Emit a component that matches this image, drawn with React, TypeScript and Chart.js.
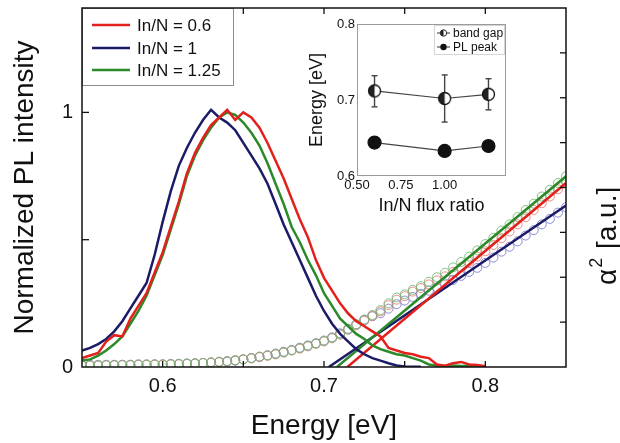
import React, { useEffect, useRef } from 'react';
import { Chart, registerables } from 'chart.js';
Chart.register(...registerables);

const FONT = "'Liberation Sans', Arial, Helvetica, sans-serif";
const INK = '#111';

// ---------- main chart data ----------
const plEnergy = [0.550,0.555,0.560,0.565,0.570,0.575,0.580,0.585,0.590,0.595,0.600,0.605,0.610,0.615,0.620,0.625,0.630,0.635,0.640,0.645,0.650,0.655,0.660,0.665,0.670,0.675,0.680,0.685,0.690,0.695,0.700,0.705,0.710,0.715,0.720,0.725,0.730,0.735,0.740,0.745,0.750,0.755,0.760,0.765,0.770,0.775,0.780,0.785,0.790,0.795,0.800];
const plRed = [0.035,0.045,0.055,0.10,0.125,0.12,0.19,0.24,0.29,0.37, 0.45,0.55,0.65,0.76,0.84,0.90,0.95,0.98,1.01,0.97, 1.00,0.98,0.94,0.88,0.81,0.74,0.66,0.58,0.51,0.42, 0.35,0.30,0.25,0.21,0.18,0.16,0.14,0.12,0.075,0.065, 0.055,0.05,0.04,0.035,0.01,0.005,0.015,0.02,0.01,0.008,0.003];
const plBlue = [0.065,0.075,0.09,0.11,0.14,0.18,0.23,0.28,0.33,0.44, 0.57,0.69,0.79,0.86,0.92,0.97,1.01,0.98,0.96,0.93, 0.88,0.83,0.78,0.72,0.64,0.56,0.49,0.42,0.35,0.28, 0.22,0.17,0.13,0.10,0.07,0.05,0.035,0.025,0.015,0.006, 0.002,0.001,0.001,null,null,null,null,null,null,null,null];
const plGreen = [0.025,0.03,0.045,0.065,0.09,0.12,0.17,0.22,0.28,0.36, 0.44,0.54,0.64,0.75,0.83,0.89,0.94,0.98,1.00,0.99, 0.96,0.92,0.87,0.80,0.72,0.64,0.55,0.49,0.42,0.36, 0.29,0.24,0.19,0.16,0.13,0.11,0.085,0.07,0.06,0.05, 0.045,0.035,0.025,0.01,0.005,0.004,0.006,0.004,0.005,0.004,0.003];

const absEnergy = [0.550,0.555,0.560,0.565,0.570,0.575,0.580,0.585,0.590,0.595,0.600,0.605,0.610,0.615,0.620,0.625,0.630,0.635,0.640,0.645,0.650,0.655,0.660,0.665,0.670,0.675,0.680,0.685,0.690,0.695,0.700,0.705,0.710,0.715,0.720,0.725,0.730,0.735,0.740,0.745,0.750,0.755,0.760,0.765,0.770,0.775,0.780,0.785,0.790,0.795,0.800,0.805,0.810,0.815,0.820,0.825,0.830,0.835,0.840,0.845,0.850];
const absBlue = [0.05,0.05,0.05,0.05,0.05,0.05,0.05,0.06,0.06,0.06, 0.06,0.07,0.07,0.08,0.08,0.09,0.10,0.11,0.12,0.14, 0.17,0.20,0.23,0.26,0.30,0.34,0.38,0.43,0.48,0.53, 0.59,0.66,0.75,0.85,0.95,1.05,1.13,1.20,1.30,1.40, 1.48,1.56,1.63,1.70,1.77,1.86,1.94,2.03,2.12,2.21, 2.32,2.44,2.57,2.68,2.80,2.93,3.05,3.18,3.30,3.44,3.56];
const absRed = [0.03,0.03,0.03,0.04,0.04,0.04,0.04,0.05,0.05,0.05, 0.05,0.06,0.06,0.07,0.08,0.09,0.10,0.11,0.13,0.15, 0.17,0.19,0.22,0.25,0.28,0.32,0.37,0.41,0.46,0.52, 0.57,0.64,0.72,0.83,0.93,1.03,1.14,1.24,1.38,1.50, 1.58,1.68,1.76,1.84,1.93,2.02,2.12,2.22,2.34,2.46, 2.58,2.72,2.87,3.02,3.18,3.34,3.50,3.65,3.80,3.96,4.12];
const absGreen = [0.04,0.04,0.04,0.04,0.04,0.05,0.05,0.05,0.05,0.06, 0.06,0.06,0.07,0.07,0.08,0.09,0.10,0.12,0.13,0.15, 0.17,0.20,0.23,0.26,0.29,0.33,0.37,0.42,0.47,0.52, 0.58,0.65,0.74,0.84,0.95,1.06,1.16,1.27,1.42,1.55, 1.62,1.72,1.80,1.90,2.00,2.10,2.22,2.34,2.46,2.60, 2.74,2.88,3.04,3.18,3.34,3.50,3.64,3.80,3.95,4.10,4.25];

const fitEnergyBlue = [0.703, 0.85];
const fitBlue = [0, 3.6];
const fitEnergyRed = [0.7145, 0.85];
const fitRed = [0, 4.1];
const fitEnergyGreen = [0.708, 0.85];
const fitGreen = [0, 4.25];

const seriesLabels = ['In/N = 0.6', 'In/N = 1', 'In/N = 1.25'];
const xTickLabels = ['0.6', '0.7', '0.8'];
const xTickMarks = [0.6, 0.65, 0.7, 0.75, 0.8];
const yTickLabels = ['0', '1'];
const yTickMarks = [0.5, 1];
const y2TickMarks = [1, 2, 3, 4, 5, 6, 7];

// ---------- inset data ----------
const fluxRatio = [0.6, 1.0, 1.25];
const bandGap = [0.712, 0.702, 0.7075];
const bandGapLow = [0.691, 0.671, 0.687];
const bandGapHigh = [0.732, 0.733, 0.728];
const plPeak = [0.644, 0.633, 0.6395];
const insetXLabels = ['0.50', '0.75', '1.00', '1.25'];
const insetYLabels = ['0.6', '0.7', '0.8'];
const insetLegend = ['band gap', 'PL peak'];

const RED = '#e3211c';
const BLUE = '#1b1b68';
const GREEN = '#2a8a2a';
const RED_C = 'rgba(232,120,120,0.85)';
const BLUE_C = 'rgba(120,120,205,0.85)';
const GREEN_C = 'rgba(110,185,110,0.85)';

Chart.defaults.font.family = FONT;
Chart.defaults.color = INK;

const xy = (xs: number[], ys: (number | null)[]) => xs.map((x, i) => ({ x, y: ys[i] }));

function halfMarker(r: number) {
  const c = document.createElement('canvas');
  const s = Math.ceil(r * 2 + 3);
  c.width = s; c.height = s;
  const g = c.getContext('2d')!;
  const m = s / 2;
  g.beginPath(); g.arc(m, m, r, 0, Math.PI * 2); g.fillStyle = '#fff'; g.fill();
  g.beginPath(); g.arc(m, m, r, Math.PI / 2, Math.PI * 1.5); g.closePath(); g.fillStyle = '#222'; g.fill();
  g.beginPath(); g.arc(m, m, r, 0, Math.PI * 2); g.lineWidth = 1.3; g.strokeStyle = '#111'; g.stroke();
  return c;
}

function line(ctx: CanvasRenderingContext2D, x1: number, y1: number, x2: number, y2: number) {
  ctx.beginPath(); ctx.moveTo(x1, y1); ctx.lineTo(x2, y2); ctx.stroke();
}

const zeroPad = (s: any) => { s.paddingTop = 0; s.paddingBottom = 0; s.paddingLeft = 0; s.paddingRight = 0; };

const mainDecor = {
  id: 'mainDecor',
  afterDatasetsDraw(chart: any) {
    const { ctx, chartArea: ca } = chart;
    const xs = chart.scales.x, ys = chart.scales.y, y2 = chart.scales.y2;
    ctx.save();
    ctx.strokeStyle = INK; ctx.lineWidth = 1.3;
    xTickMarks.forEach(v => { const px = xs.getPixelForValue(v); line(ctx, px, ca.bottom, px, ca.bottom - 6); line(ctx, px, ca.top, px, ca.top + 6); });
    yTickMarks.forEach(v => { const py = ys.getPixelForValue(v); line(ctx, ca.left, py, ca.left + 7, py); });
    y2TickMarks.forEach(v => { const py = y2.getPixelForValue(v); line(ctx, ca.right, py, ca.right - 6, py); });
    // legend
    const lx = ca.left, ly = ca.top, lw = 151, lh = 77;
    ctx.fillStyle = '#fff'; ctx.fillRect(lx, ly, lw, lh);
    ctx.strokeStyle = '#8c8c8c'; ctx.lineWidth = 1; ctx.strokeRect(lx + 0.5, ly + 0.5, lw, lh);
    const cols = [RED, BLUE, GREEN];
    const rows = [17, 40, 62];
    ctx.font = `17px ${FONT}`; ctx.textBaseline = 'middle'; ctx.textAlign = 'left';
    seriesLabels.forEach((t, i) => {
      ctx.strokeStyle = cols[i]; ctx.lineWidth = 2.5;
      line(ctx, lx + 10, ly + rows[i], lx + 48, ly + rows[i]);
      ctx.fillStyle = INK; ctx.fillText(t, lx + 55, ly + rows[i] + 1);
    });
    // frame
    ctx.strokeStyle = INK; ctx.lineWidth = 1.5;
    ctx.strokeRect(ca.left, ca.top, ca.right - ca.left, ca.bottom - ca.top);
    ctx.restore();
  },
  afterDraw(chart: any) {
    const { ctx } = chart;
    ctx.save();
    ctx.translate(chart.width - 4, 285);
    ctx.rotate(-Math.PI / 2);
    ctx.fillStyle = INK; ctx.textBaseline = 'alphabetic'; ctx.textAlign = 'left';
    ctx.font = `28px ${FONT}`;
    ctx.fillText('α', 0, 0);
    const wa = ctx.measureText('α').width;
    ctx.font = `18px ${FONT}`;
    ctx.fillText('2', wa + 1, -14);
    const w2 = ctx.measureText('2').width;
    ctx.font = `28px ${FONT}`;
    ctx.fillText(' [a.u.]', wa + w2 + 2, 0);
    ctx.restore();
  },
};

function mainConfig(): any {
  const pl = (label: string, ys: (number | null)[], color: string) => ({
    label, data: xy(plEnergy, ys), borderColor: color, backgroundColor: color, borderWidth: 2.5,
    pointRadius: 0, yAxisID: 'y', order: 0, spanGaps: false, tension: 0,
  });
  const fit = (xs: number[], ys: number[], color: string) => ({
    data: xy(xs, ys), borderColor: color, borderWidth: 2.5, pointRadius: 0, yAxisID: 'y2', order: 1,
  });
  const abs = (ys: number[], color: string) => ({
    data: xy(absEnergy, ys), showLine: false, pointRadius: 4.5, pointBorderWidth: 1,
    pointBorderColor: color, pointBackgroundColor: 'rgba(255,255,255,0)', borderColor: color, yAxisID: 'y2', order: 2,
  });
  return {
    type: 'line',
    data: {
      datasets: [
        pl(seriesLabels[0], plRed, RED),
        pl(seriesLabels[2], plGreen, GREEN),
        pl(seriesLabels[1], plBlue, BLUE),
        fit(fitEnergyGreen, fitGreen, GREEN),
        fit(fitEnergyRed, fitRed, RED),
        fit(fitEnergyBlue, fitBlue, BLUE),
        abs(absGreen, GREEN_C),
        abs(absRed, RED_C),
        abs(absBlue, BLUE_C),
      ],
    },
    options: {
      responsive: false, animation: false, devicePixelRatio: 1,
      layout: { padding: { top: 8, left: 0, right: 0, bottom: 0 } },
      plugins: { legend: { display: false }, tooltip: { enabled: false } },
      scales: {
        x: {
          type: 'linear', position: 'bottom', min: 0.55, max: 0.85,
          ticks: {
            stepSize: 0.05, padding: 7, maxRotation: 0, autoSkip: false, color: INK,
            font: { size: 20, family: FONT },
            callback: (v: number) => { const s = Number(v).toFixed(1); return Math.abs(v * 10 - Math.round(v * 10)) < 1e-6 && xTickLabels.includes(s) ? s : ''; },
          },
          grid: { display: false, drawTicks: false }, border: { display: false },
          title: { display: true, text: 'Energy [eV]', color: INK, font: { size: 28, family: FONT }, padding: { top: 0, bottom: 0 } },
          afterFit: (s: any) => { s.height = 76; zeroPad(s); },
        },
        y: {
          type: 'linear', position: 'left', min: 0, max: 1.41,
          ticks: {
            stepSize: 0.5, padding: 9, color: INK, font: { size: 20, family: FONT },
            callback: (v: number) => { const r = Math.round(v); return Math.abs(v - r) < 1e-6 && yTickLabels.includes(String(r)) ? String(r) : ''; },
          },
          grid: { display: false, drawTicks: false }, border: { display: false },
          title: { display: true, text: 'Normalized PL intensity', color: INK, font: { size: 28, family: FONT }, padding: { top: 8, bottom: 0 } },
          afterFit: (s: any) => { s.width = 82; zeroPad(s); },
        },
        y2: {
          type: 'linear', position: 'right', min: 0, max: 8,
          ticks: { display: false, stepSize: 1 },
          grid: { display: false, drawTicks: false }, border: { display: false },
          afterFit: (s: any) => { s.width = 54; zeroPad(s); },
        },
      },
    },
    plugins: [mainDecor],
  };
}

const insetDecor = {
  id: 'insetDecor',
  beforeDatasetsDraw(chart: any) {
    const { ctx } = chart;
    const xs = chart.scales.x, ys = chart.scales.y;
    ctx.save();
    ctx.strokeStyle = '#444'; ctx.lineWidth = 1.4;
    fluxRatio.forEach((r, i) => {
      const px = xs.getPixelForValue(r);
      const pLo = ys.getPixelForValue(bandGapLow[i]);
      const pHi = ys.getPixelForValue(bandGapHigh[i]);
      line(ctx, px, pLo, px, pHi);
      line(ctx, px - 3, pLo, px + 3, pLo);
      line(ctx, px - 3, pHi, px + 3, pHi);
    });
    ctx.restore();
  },
  beforeDraw(chart: any) {
    const { ctx, chartArea: ca } = chart;
    ctx.save();
    ctx.fillStyle = '#fff';
    ctx.fillRect(ca.left, ca.top, ca.right - ca.left, ca.bottom - ca.top);
    ctx.restore();
  },
  afterDraw(chart: any) {
    const { ctx, chartArea: ca } = chart;
    ctx.save();
    ctx.strokeStyle = '#9a9a9a'; ctx.lineWidth = 1;
    ctx.strokeRect(ca.left + 0.5, ca.top + 0.5, ca.right - ca.left - 1, ca.bottom - ca.top - 1);
    // legend
    const bx = ca.right - 72, by = ca.top + 1, bw = 71, bh = 30;
    ctx.fillStyle = '#fff'; ctx.fillRect(bx, by, bw, bh);
    ctx.setLineDash([1, 1]); ctx.strokeStyle = '#aaa';
    ctx.strokeRect(bx + 0.5, by + 0.5, bw - 1, bh - 1);
    ctx.setLineDash([]);
    const rows = [by + 8, by + 22];
    ctx.font = `12px ${FONT}`; ctx.textBaseline = 'middle'; ctx.textAlign = 'left';
    insetLegend.forEach((t, i) => {
      const yy = rows[i];
      ctx.strokeStyle = '#333'; ctx.lineWidth = 1;
      line(ctx, bx + 3, yy, bx + 16, yy);
      ctx.beginPath(); ctx.arc(bx + 9.5, yy, 3.2, 0, Math.PI * 2);
      if (i === 0) {
        ctx.fillStyle = '#fff'; ctx.fill();
        ctx.beginPath(); ctx.arc(bx + 9.5, yy, 3.2, Math.PI / 2, Math.PI * 1.5); ctx.closePath(); ctx.fillStyle = '#222'; ctx.fill();
        ctx.beginPath(); ctx.arc(bx + 9.5, yy, 3.2, 0, Math.PI * 2); ctx.stroke();
      } else {
        ctx.fillStyle = '#111'; ctx.fill();
      }
      ctx.fillStyle = INK; ctx.fillText(t, bx + 19, yy + 1);
    });
    ctx.restore();
  },
};

function insetConfig(): any {
  return {
    type: 'line',
    data: {
      datasets: [
        {
          label: insetLegend[0], data: xy(fluxRatio, bandGap), borderColor: '#444', borderWidth: 1.2,
          pointStyle: halfMarker(6), pointRadius: 6,
        },
        {
          label: insetLegend[1], data: xy(fluxRatio, plPeak), borderColor: '#444', borderWidth: 1.2,
          pointRadius: 6.5, pointBackgroundColor: '#111', pointBorderColor: '#111',
        },
      ],
    },
    options: {
      responsive: false, animation: false, devicePixelRatio: 1,
      layout: { padding: { top: 24, right: 9, left: 0, bottom: 0 } },
      plugins: { legend: { display: false }, tooltip: { enabled: false } },
      scales: {
        x: {
          type: 'linear', position: 'bottom', min: 0.5, max: 1.35,
          ticks: {
            stepSize: 0.25, padding: 2, maxRotation: 0, autoSkip: false, color: INK, font: { size: 13, family: FONT },
            callback: (v: number) => { const s = Number(v).toFixed(2); return insetXLabels.includes(s) ? s : ''; },
          },
          grid: { display: false, drawTicks: false }, border: { display: false },
          title: { display: true, text: 'In/N flux ratio', color: INK, font: { size: 18, family: FONT }, padding: { top: 0, bottom: 5 } },
          afterFit: (s: any) => { s.height = 46; zeroPad(s); },
        },
        y: {
          type: 'linear', position: 'left', min: 0.6, max: 0.8,
          ticks: {
            stepSize: 0.1, padding: 2, color: INK, font: { size: 13, family: FONT },
            callback: (v: number) => { const s = Number(v).toFixed(1); return insetYLabels.includes(s) ? s : ''; },
          },
          grid: { display: false, drawTicks: false }, border: { display: false },
          title: { display: true, text: 'Energy [eV]', color: INK, font: { size: 18, family: FONT }, padding: { top: 6, bottom: 0 } },
          afterFit: (s: any) => { s.width = 57; zeroPad(s); },
        },
      },
    },
    plugins: [insetDecor],
  };
}

export default function App() {
  const mainRef = useRef<HTMLCanvasElement>(null);
  const insetRef = useRef<HTMLCanvasElement>(null);
  useEffect(() => {
    const c1 = new Chart(mainRef.current as HTMLCanvasElement, mainConfig());
    const c2 = new Chart(insetRef.current as HTMLCanvasElement, insetConfig());
    return () => { c1.destroy(); c2.destroy(); };
  }, []);
  return (
    <div style={{ position: 'fixed', left: 0, top: 0, width: 620, height: 443, background: '#fff', overflow: 'hidden' }}>
      <canvas ref={mainRef} width={620} height={443} style={{ position: 'absolute', left: 0, top: 0, width: 620, height: 443 }} />
      <canvas ref={insetRef} width={215} height={222} style={{ position: 'absolute', left: 300, top: 0, width: 215, height: 222 }} />
    </div>
  );
}
